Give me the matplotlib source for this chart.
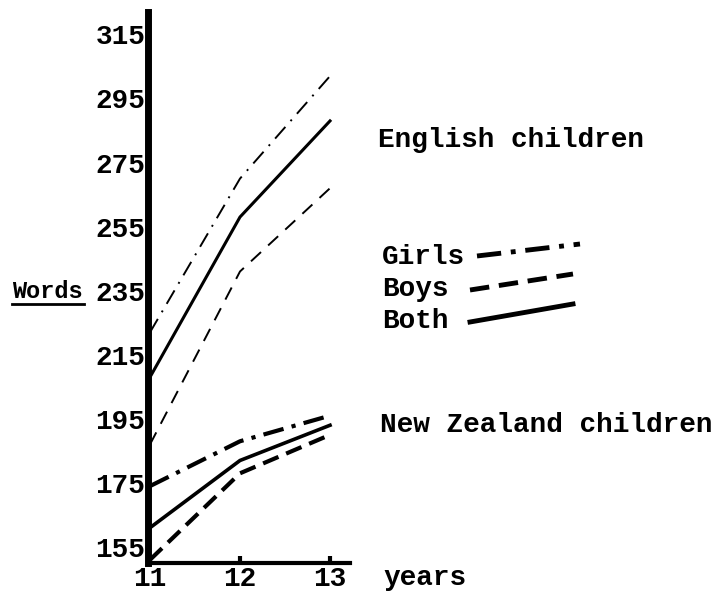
import matplotlib.pyplot as plt

# ages (years) and words known
ages = [11, 12, 13]
eng_girls = [222, 270, 302]
eng_boys = [187, 241, 267]
eng_both = [208, 258, 288]
nz_girls = [174, 188, 196]
nz_boys = [151, 178, 190]
nz_both = [161, 182, 193]

y_ticks = [155, 175, 195, 215, 235, 255, 275, 295, 315]
x_ticks = [11, 12, 13]
key_labels = ["Girls", "Boys", "Both"]

girls_ls = (0, (5, 2, 1, 2))
boys_ls = (0, (4, 2))
both_ls = "-"

plt.rcParams["font.family"] = ["Liberation Mono", "DejaVu Sans Mono"]
plt.rcParams["font.weight"] = "bold"

fig = plt.figure(figsize=(7.2, 5.93), dpi=100)
ax = fig.add_axes([148 / 720, 30 / 593, 202 / 720, 551 / 593])

# English children: thinner lines
ax.plot(ages, eng_girls, color="black", lw=1.4, linestyle=(0, (8, 4, 1, 4)))
ax.plot(ages, eng_boys, color="black", lw=1.4, linestyle=(0, (7, 5)))
ax.plot(ages, eng_both, color="black", lw=2.2, linestyle=both_ls)

# New Zealand children: heavier lines
ax.plot(ages, nz_girls, color="black", lw=3, linestyle=girls_ls)
ax.plot(ages, nz_boys, color="black", lw=3, linestyle=boys_ls)
ax.plot(ages, nz_both, color="black", lw=2.6, linestyle=both_ls)

ax.set_xlim(10.978, 13.222)
ax.set_ylim(150, 322)
ax.set_yticks(y_ticks)
ax.set_xticks(x_ticks)
ax.tick_params(axis="y", length=0, pad=2, labelsize=20)
ax.tick_params(axis="x", direction="in", length=5, width=3, pad=2, labelsize=20)

for s in ["top", "right"]:
    ax.spines[s].set_visible(False)
ax.spines["left"].set_linewidth(5)
ax.spines["bottom"].set_linewidth(3)

# labels
fig.text(12 / 720, 1 - 291 / 593, "Words", fontsize=17, va="center", ha="left")
fig.add_artist(plt.Line2D([12 / 720, 84 / 720], [1 - 304 / 593, 1 - 304 / 593],
                          color="black", lw=2))
fig.text(383 / 720, 1 - 578 / 593, "years", fontsize=20, va="center")
fig.text(378 / 720, 1 - 140 / 593, "English children", fontsize=20, va="center")
fig.text(380 / 720, 1 - 425 / 593, "New Zealand children", fontsize=20, va="center")

# hand-drawn style key: label on the left, slanted sample on the right
key_rows = [(257, 477, 256, 244), (289, 470, 290, 274), (321, 470, 322, 304)]
for lab, ls, (ty, x0, y0, y1) in zip(key_labels, [girls_ls, boys_ls, both_ls], key_rows):
    fig.text(382 / 720, 1 - ty / 593, lab, fontsize=20, va="center")
    fig.add_artist(plt.Line2D([x0 / 720, (x0 + 103) / 720],
                              [1 - y0 / 593, 1 - y1 / 593],
                              color="black", lw=3.5, linestyle=ls))

plt.savefig("out.png", dpi=100)
